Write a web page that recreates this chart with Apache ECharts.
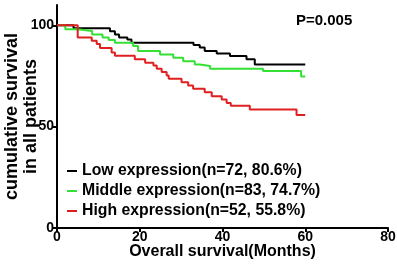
<!DOCTYPE html>
<html>
<head>
<meta charset="utf-8">
<script src="https://cdn.jsdelivr.net/npm/echarts@6/dist/echarts.min.js"></script>
<style>
html, body { margin: 0; padding: 0; background: #fff; }
#box1 { width: 397px; height: 264px; }
</style>
</head>
<body>
<div id="box1"></div>
<script>
var groups = ['Low expression(n=72, 80.6%)', 'Middle expression(n=83, 74.7%)', 'High expression(n=52, 55.8%)'];
var colors = ['#000000', '#33e033', '#e02020'];
var xTicks = [0, 20, 40, 60, 80];
var yTicks = [0, 50, 100];
// [month, survival %] - survival after each drop
var lowData = [[0, 100], [4, 98.5], [12.8, 97], [14, 95.5], [15, 94], [17, 93], [18, 91.4], [33, 90.3], [34.5, 89],
    [35.7, 87.3], [38.6, 86.1], [41.8, 84.8], [45.8, 83.2], [47.8, 80.6], [60, 80.6]];
var midData = [[0, 100], [2, 98], [5, 97.2], [8.5, 95.5], [11, 94], [12.5, 92.7], [14, 91.4], [18.4, 89.8], [19.6, 87.3],
    [24.9, 85.6], [28.1, 84], [30.5, 82.3], [33.3, 80.7], [34.5, 79.9], [37, 78.5], [49.8, 77.4], [59, 74.7], [60, 74.7]];
var highData = [[0, 100], [5, 94], [8.4, 92.4], [9.6, 90.8], [10.4, 88.8], [13.2, 86.6], [14, 85], [18.8, 83.2],
    [21.3, 81.5], [23.3, 80.2], [24.1, 78.5], [25.3, 76.9], [26.5, 75.2], [27, 73.6], [30.1, 71.9], [31.7, 70.3],
    [32.9, 68.7], [35.7, 67], [37.4, 65], [39.8, 63.4], [41, 61.7], [42, 60.3], [46.6, 58.4], [57.9, 55.8], [60, 55.8]];
var pText = 'P=0.005';

window.onload = function () {
    var myChart = echarts.init(document.getElementById('box1'));
    var font = 'Liberation Sans, Arial, sans-serif';
    var allData = [lowData, midData, highData];

    var option = {
        animation: false,
        grid: { left: 57, right: 9, top: 5, bottom: 36, outerBoundsMode: 'none', containLabel: false },
        title: {
            text: pText, left: 291, top: 8,
            textStyle: { fontFamily: font, fontWeight: 'bold', fontSize: 15, color: '#000' }
        },
        legend: {
            orient: 'vertical', left: 62, top: 158,
            itemWidth: 10, itemHeight: 2, itemGap: 4,
            icon: 'rect',
            data: groups,
            textStyle: { fontFamily: font, fontWeight: 'bold', fontSize: 15.8, color: '#000', lineHeight: 16 }
        },
        xAxis: {
            type: 'value', min: 0, max: 80, interval: 20,
            name: 'Overall survival(Months)', nameLocation: 'middle', nameGap: 16, nameMoveOverlap: false,
            nameTextStyle: { fontFamily: font, fontWeight: 'bold', fontSize: 16, color: '#000' },
            axisLine: { lineStyle: { color: '#000', width: 2 } },
            axisTick: { show: true, length: 4, lineStyle: { color: '#000', width: 2 } },
            axisLabel: {
                margin: 2, fontFamily: font, fontWeight: 'bold', fontSize: 14, color: '#000',
                formatter: function (v) { return xTicks.indexOf(v) >= 0 ? String(v) : ''; }
            },
            splitLine: { show: false }
        },
        yAxis: {
            type: 'value', min: 0, max: 110, interval: 50,
            name: 'cumulative survival\nin all patients', nameLocation: 'middle', nameGap: 16, nameMoveOverlap: false,
            nameTextStyle: { fontFamily: font, fontWeight: 'bold', fontSize: 18, color: '#000', lineHeight: 19 },
            axisLine: { lineStyle: { color: '#000', width: 2 } },
            axisTick: { show: true, length: 4, lineStyle: { color: '#000', width: 2 } },
            axisLabel: {
                margin: 3, fontFamily: font, fontWeight: 'bold', fontSize: 14, color: '#000', showMaxLabel: false,
                formatter: function (v) { return yTicks.indexOf(v) >= 0 ? String(v) : ''; }
            },
            splitLine: { show: false }
        },
        series: groups.map(function (g, i) {
            return {
                name: g, type: 'line', step: 'end', data: allData[i],
                symbol: 'none', itemStyle: { color: colors[i] },
                lineStyle: { color: colors[i], width: 2 }
            };
        })
    };
    myChart.setOption(option);
    window.addEventListener('resize', function () {
        myChart.resize();
    });
};
</script>
</body>
</html>
